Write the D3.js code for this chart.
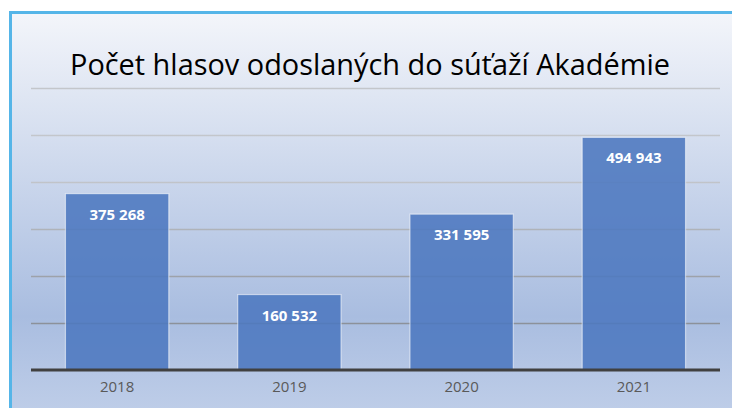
<!DOCTYPE html>
<html lang="sk">
  <head>
    <meta charset="UTF-8" />
    <title>Počet hlasov odoslaných do súťaží Akadémie</title>
    <script src="https://d3js.org/d3.v7.min.js"></script>
    <style>
      body { margin: 0; background: #fff; }
      svg { display: block; }
      .bar-label { font-family: "Open Sans", sans-serif; font-weight: bold; fill: #fff; }
      .year { font-family: "Open Sans", sans-serif; fill: #595959; }
    </style>
  </head>
  <body>
    <svg id="chart" width="732" height="408"></svg>
    <script>
      const title = "Počet hlasov odoslaných do súťaží Akadémie";
      const years = ["2018", "2019", "2020", "2021"];
      const votes = [375268, 160532, 331595, 494943];
      const gridTicks = [0, 100000, 200000, 300000, 400000, 500000, 600000];

      const svg = d3.select("#chart");
      const margin = { top: 88, right: 12, bottom: 38, left: 31 };
      const width = 732 - margin.left - margin.right;
      const height = 408 - margin.top - margin.bottom;

      const defs = svg.append("defs");
      const bg = defs.append("linearGradient")
        .attr("id", "bg").attr("x1", 0).attr("y1", 0).attr("x2", 0).attr("y2", 1);
      bg.append("stop").attr("offset", "0%").attr("stop-color", "#f3f5fa");
      bg.append("stop").attr("offset", "72%").attr("stop-color", "#a9bde0");
      bg.append("stop").attr("offset", "100%").attr("stop-color", "#c3d1ea");

      const gridGrad = defs.append("linearGradient")
        .attr("id", "gridGrad").attr("gradientUnits", "userSpaceOnUse")
        .attr("x1", 0).attr("y1", margin.top).attr("x2", 0).attr("y2", margin.top + height);
      gridGrad.append("stop").attr("offset", "0%").attr("stop-color", "#c3c6cb");
      gridGrad.append("stop").attr("offset", "100%").attr("stop-color", "#5a616d");

      // frame with blue border on top and left
      svg.append("rect").attr("x", 9).attr("y", 11).attr("width", 740).attr("height", 420)
        .attr("fill", "#55b5e8");
      svg.append("rect").attr("x", 12).attr("y", 14).attr("width", 740).attr("height", 420)
        .attr("fill", "url(#bg)");

      const g = svg.append("g").attr("transform", `translate(${margin.left},${margin.top})`);

      const x = d3.scaleBand().domain(years).range([0, width]).paddingInner(0.4).paddingOuter(0.2);
      const y = d3.scaleLinear().domain([0, 600000]).range([height, 0]);

      // gridlines
      g.append("g")
        .selectAll("line")
        .data(gridTicks.filter((d) => d > 0))
        .join("line")
        .attr("x1", 0).attr("x2", width)
        .attr("y1", (d) => Math.round(y(d)) + 0.5).attr("y2", (d) => Math.round(y(d)) + 0.5)
        .attr("stroke", "url(#gridGrad)").attr("stroke-width", 1.5);

      // bars
      g.selectAll(".bar")
        .data(votes)
        .join("rect")
        .attr("class", "bar")
        .attr("x", (d, i) => x(years[i]))
        .attr("y", (d) => y(d))
        .attr("width", x.bandwidth())
        .attr("height", (d) => height - y(d))
        .attr("fill", "#4c77bf").attr("fill-opacity", 0.88)
        .attr("stroke", "#ffffff").attr("stroke-opacity", 0.55).attr("stroke-width", 1.2);

      // value labels
      const fmt = (v) => d3.format(",")(v).replace(/,/g, " ");
      g.selectAll(".bar-label")
        .data(votes)
        .join("text")
        .attr("class", "bar-label")
        .attr("x", (d, i) => x(years[i]) + x.bandwidth() / 2)
        .attr("y", (d) => y(d) + 26)
        .attr("text-anchor", "middle")
        .style("font-size", "15px")
        .text(fmt);

      // x axis
      g.append("line")
        .attr("x1", 0).attr("x2", width)
        .attr("y1", height).attr("y2", height)
        .attr("stroke", "#404040").attr("stroke-width", 3);

      const xAxis = g.append("g")
        .attr("transform", `translate(0,${height})`)
        .call(d3.axisBottom(x).tickSize(0).tickPadding(0));
      xAxis.select(".domain").remove();
      xAxis.selectAll("text")
        .attr("class", "year")
        .attr("dy", null).attr("y", 22)
        .style("font-size", "15px").style("font-family", "'Open Sans', sans-serif")
        .attr("fill", "#595959");

      // title
      const t = svg.append("text")
        .attr("x", 370).attr("y", 75)
        .attr("text-anchor", "middle")
        .style("font-family", "'Open Sans', sans-serif")
        .style("font-size", "30px")
        .attr("fill", "#000")
        .text(title);
      const tw = t.node().getComputedTextLength();
      t.style("font-size", (30 * 600 / tw).toFixed(1) + "px");
    </script>
  </body>
</html>
